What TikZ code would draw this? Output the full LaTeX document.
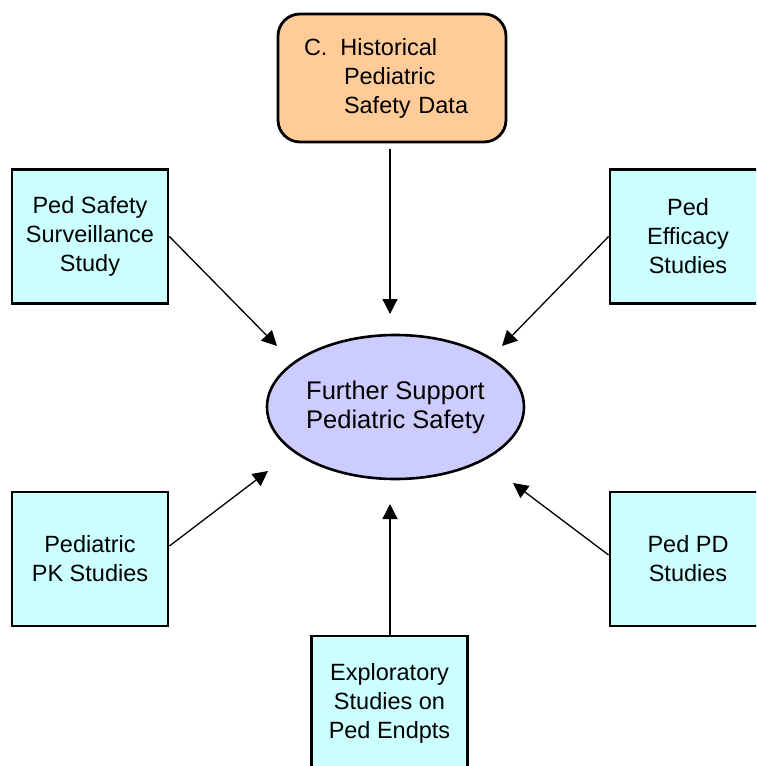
\documentclass[tikz,border=0pt]{standalone}
\usepackage{fontspec}
\setmainfont{Liberation Sans}
\usetikzlibrary{arrows.meta,shapes.geometric}

\definecolor{studyfill}{HTML}{CCFFFF}
\definecolor{histfill}{HTML}{FFCC99}
\definecolor{goalfill}{HTML}{CCCCFF}

\tikzset{
  studybox/.style={draw=black, line width=2.8pt, fill=studyfill,
    minimum width=156pt, minimum height=134pt, inner sep=0pt,
    align=center, font=\fontsize{23.5}{29}\selectfont},
  histbox/.style={draw=black, line width=2.8pt, fill=histfill,
    rounded corners=22pt, minimum width=228pt, minimum height=128pt,
    text width=176pt, inner xsep=26pt, align=left,
    font=\fontsize{23.5}{29}\selectfont},
  goal/.style={ellipse, draw=black, line width=2.6pt, fill=goalfill,
    minimum width=257pt, minimum height=144pt, inner sep=0pt,
    align=center, font=\fontsize{25.5}{29}\selectfont},
  feed/.style={line width=1.3pt, -{Triangle[length=15pt,width=15pt]}}
}

\begin{document}
\begin{tikzpicture}[x=1pt,y=-1pt]
  \clip (0,0) rectangle (756,766);
  \fill[white] (0,0) rectangle (756,766);

  % central goal
  \node[goal] (goal) at (395.5,407) {Further Support\\Pediatric Safety};

  % historical data source
  \node[histbox] (hist) at (392,78)
    {C.\hspace{13pt}Historical\\\hspace{40pt}Pediatric\\\hspace{40pt}Safety Data};

  % contributing studies
  \node[studybox] (surv) at (90,236.5) {Ped Safety\\Surveillance\\Study};
  \node[studybox] (eff)  at (688,236.5) {Ped\\Efficacy\\Studies};
  \node[studybox] (pk)   at (90,559) {Pediatric\\PK Studies};
  \node[studybox] (pd)   at (688,559) {Ped PD\\Studies};
  \node[studybox] (expl) at (389.5,703) {Exploratory\\Studies on\\Ped Endpts};

  % arrow tips, short of the ellipse
  \coordinate (tHist) at (390,314);
  \coordinate (tSurv) at (277,346);
  \coordinate (tEff)  at (502,346);
  \coordinate (tPK)   at (268,471);
  \coordinate (tPD)   at (513,483);
  \coordinate (tExpl) at (390,504);

  \draw[feed] ([yshift=-6pt]hist.south -| tHist) -- (tHist);
  \draw[feed] (surv.east) -- (tSurv);
  \draw[feed] (eff.west) -- (tEff);
  \draw[feed] ([yshift=13pt]pk.east) -- (tPK);
  \draw[feed] ([yshift=4pt]pd.west) -- (tPD);
  \draw[feed] (expl.north -| tExpl) -- (tExpl);
\end{tikzpicture}
\end{document}
